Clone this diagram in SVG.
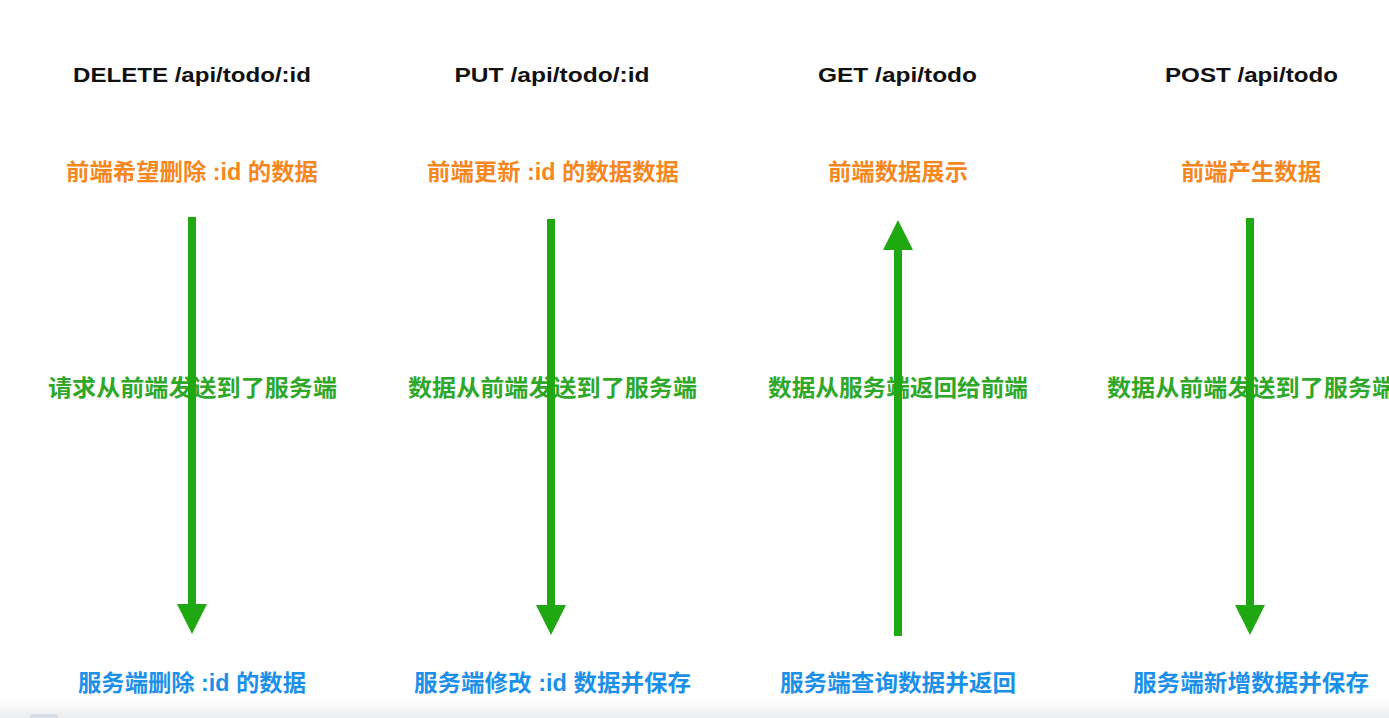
<svg xmlns="http://www.w3.org/2000/svg" width="1389" height="718" viewBox="0 0 1389 718">
<defs>
<style>
text{font-family:"Liberation Sans","Noto Sans CJK SC",sans-serif;font-weight:bold;text-anchor:middle;dominant-baseline:central}
.t{fill:#111;font-size:21px}
.o{fill:#F5871F;font-size:23px}
.g{fill:#2FA82A;font-size:23px}
.b{fill:#1C90E8;font-size:23px}
.arr{fill:#1FA812}
</style>
<linearGradient id="bot" x1="0" y1="0" x2="0" y2="1">
<stop offset="0" stop-color="#ffffff" stop-opacity="0"/>
<stop offset="1" stop-color="#e9ebee"/>
</linearGradient>
</defs>
<rect width="1389" height="718" fill="#ffffff"/>
<rect x="0" y="690" width="1389" height="28" fill="url(#bot)"/>
<rect x="30" y="714" width="28" height="4" rx="2" fill="#d6dde6"/>
<g id="col-delete">
<text class="t" x="192" y="74" textLength="238" lengthAdjust="spacingAndGlyphs">DELETE /api/todo/:id</text>
<text class="o" x="192" y="172" textLength="252" lengthAdjust="spacingAndGlyphs">前端希望删除 :id 的数据</text>
<text class="g" x="192.5" y="388" textLength="289" lengthAdjust="spacingAndGlyphs">请求从前端发送到了服务端</text>
<text class="b" x="192" y="683" textLength="228" lengthAdjust="spacingAndGlyphs">服务端删除 :id 的数据</text>
</g>
<g id="col-put">
<text class="t" x="552" y="74" textLength="195" lengthAdjust="spacingAndGlyphs">PUT /api/todo/:id</text>
<text class="o" x="553" y="172" textLength="252" lengthAdjust="spacingAndGlyphs">前端更新 :id 的数据数据</text>
<text class="g" x="552.5" y="388" textLength="289" lengthAdjust="spacingAndGlyphs">数据从前端发送到了服务端</text>
<text class="b" x="552.5" y="683" textLength="277" lengthAdjust="spacingAndGlyphs">服务端修改 :id 数据并保存</text>
</g>
<g id="col-get">
<text class="t" x="897.5" y="74" textLength="159" lengthAdjust="spacingAndGlyphs">GET /api/todo</text>
<text class="o" x="898" y="172" textLength="140" lengthAdjust="spacingAndGlyphs">前端数据展示</text>
<text class="g" x="898" y="388" textLength="260" lengthAdjust="spacingAndGlyphs">数据从服务端返回给前端</text>
<text class="b" x="898" y="683" textLength="236" lengthAdjust="spacingAndGlyphs">服务端查询数据并返回</text>
</g>
<g id="col-post">
<text class="t" x="1251.5" y="74" textLength="173" lengthAdjust="spacingAndGlyphs">POST /api/todo</text>
<text class="o" x="1251" y="172" textLength="140" lengthAdjust="spacingAndGlyphs">前端产生数据</text>
<text class="g" x="1251.5" y="388" textLength="289" lengthAdjust="spacingAndGlyphs">数据从前端发送到了服务端</text>
<text class="b" x="1251" y="683" textLength="236" lengthAdjust="spacingAndGlyphs">服务端新增数据并保存</text>
</g>
<g id="connectors">
<path class="arr" d="M188 217 H196 V604 H207 L192 634 L177 604 H188 Z"/>
<path class="arr" d="M547 219 H555 V605 H566 L551 635 L536 605 H547 Z"/>
<path class="arr" d="M894 636 H902 V250 H913 L898 220 L883 250 H894 Z"/>
<path class="arr" d="M1246 218 H1254 V605 H1265 L1250 635 L1235 605 H1246 Z"/>
</g>
</svg>
